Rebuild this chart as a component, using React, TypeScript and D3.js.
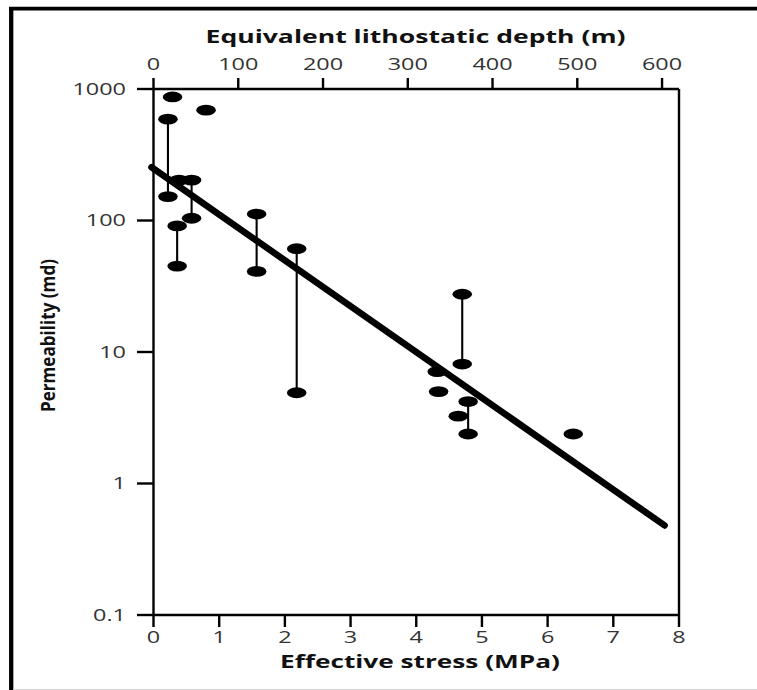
import React from "react";
import * as d3 from "d3";

// Paired measurements: upper and lower permeability at the same effective stress
const pairStress = [0.22, 0.58, 0.36, 1.57, 2.18, 4.7, 4.79];
const pairHigh = [590, 203, 91, 112, 61, 27.5, 4.2];
const pairLow = [152, 104, 45, 41, 4.9, 8.1, 2.38];

// Single measurements
const singleStress = [0.29, 0.8, 0.39, 4.32, 4.34, 4.64, 6.39];
const singlePerm = [870, 690, 203, 7.1, 5.0, 3.25, 2.38];

// Exponential fit drawn as a straight line on the log axis
const trendStress = [-0.03, 7.78];
const trendPerm = [254, 0.48];

// Axis ticks
const stressTicks = [0, 1, 2, 3, 4, 5, 6, 7, 8];
const depthTicks = [0, 100, 200, 300, 400, 500, 600];
const permTicks = [1000, 100, 10, 1, 0.1];
const permTickLabels = ["1000", "100", "10", "1", "0.1"];

const W = 757;
const H = 690;
const left = 153.5;
const right = 679;
const top = 89;
const bottom = 615;

const FONT = "'Open Sans', 'DejaVu Sans', sans-serif";
const STRETCH = 1.42;

export default function App() {
  const x = d3.scaleLinear().domain([0, 8]).range([left, right]);
  const xTop = d3.scaleLinear().domain([0, 620]).range([left, right]);
  const y = d3.scaleLog().domain([0.1, 1000]).range([bottom, top]);

  const trend = d3
    .line<number>()
    .x((_, i) => x(trendStress[i]))
    .y((v) => y(v))(trendPerm);

  const axisW = 2.4;
  const tickFill = "#333";

  return (
    <svg
      width={W}
      height={H}
      style={{ position: "absolute", left: 0, top: 0, background: "#fff" }}
      fontFamily={FONT}
    >
      {/* outer frame */}
      <line x1={9} x2={W} y1={8.6} y2={8.6} stroke="#000" strokeWidth={3.6} />
      <line x1={11.2} x2={11.2} y1={7} y2={H} stroke="#000" strokeWidth={4.3} />
      <line x1={13} x2={W} y1={689.5} y2={689.5} stroke="#d4d4d4" strokeWidth={1} />

      {/* plot box */}
      <line x1={left} x2={right} y1={top} y2={top} stroke="#000" strokeWidth={axisW} />
      <line x1={left} x2={right} y1={bottom} y2={bottom} stroke="#000" strokeWidth={axisW} />
      <line x1={left} x2={left} y1={top} y2={bottom} stroke="#000" strokeWidth={axisW} />
      <line x1={right} x2={right} y1={top} y2={bottom} stroke="#000" strokeWidth={axisW} />

      {/* bottom axis: effective stress */}
      {stressTicks.map((t) => (
        <g key={"s" + t}>
          <line x1={x(t)} x2={x(t)} y1={bottom} y2={bottom + 12} stroke="#000" strokeWidth={axisW} />
          <text
            transform={`translate(${x(t)},642.5) scale(${STRETCH},1)`}
            textAnchor="middle"
            fontSize={16.5}
            fill={tickFill}
          >
            {t}
          </text>
        </g>
      ))}
      <text
        x={420}
        y={668}
        textAnchor="middle"
        fontSize={17.5}
        fontWeight={700}
        textLength={280}
        lengthAdjust="spacingAndGlyphs"
        fill="#111"
      >
        Effective stress (MPa)
      </text>

      {/* top axis: equivalent lithostatic depth */}
      {depthTicks.map((t) => (
        <g key={"d" + t}>
          <line x1={xTop(t)} x2={xTop(t)} y1={top} y2={top - 11} stroke="#000" strokeWidth={axisW} />
          <text
            transform={`translate(${xTop(t)},70) scale(${STRETCH},1)`}
            textAnchor="middle"
            fontSize={16.5}
            fill={tickFill}
          >
            {t}
          </text>
        </g>
      ))}
      <text
        x={415.5}
        y={43}
        textAnchor="middle"
        fontSize={17.5}
        fontWeight={700}
        textLength={420}
        lengthAdjust="spacingAndGlyphs"
        fill="#111"
      >
        Equivalent lithostatic depth (m)
      </text>

      {/* left axis: permeability */}
      {permTicks.map((t, i) => (
        <g key={"p" + t}>
          <line x1={left - 16.5} x2={left} y1={y(t)} y2={y(t)} stroke="#000" strokeWidth={axisW} />
          <text
            transform={`translate(126,${y(t) + 5.8}) scale(${STRETCH},1)`}
            textAnchor="end"
            fontSize={16.5}
            fill={tickFill}
          >
            {permTickLabels[i]}
          </text>
        </g>
      ))}
      <text
        transform={`translate(55,335.5) rotate(-90) scale(1,1.4)`}
        textAnchor="middle"
        fontSize={14}
        fontWeight={700}
        textLength={153}
        lengthAdjust="spacingAndGlyphs"
        fill="#111"
      >
        Permeability (md)
      </text>

      {/* range bars */}
      {pairStress.map((s, i) => (
        <line
          key={"b" + i}
          x1={x(s)}
          x2={x(s)}
          y1={y(pairHigh[i])}
          y2={y(pairLow[i])}
          stroke="#000"
          strokeWidth={2.1}
        />
      ))}

      {/* fit line */}
      <path d={trend ?? ""} fill="none" stroke="#000" strokeWidth={6.6} strokeLinecap="round" />

      {/* markers */}
      {pairStress.map((s, i) => (
        <g key={"m" + i}>
          <ellipse cx={x(s)} cy={y(pairHigh[i])} rx={9.8} ry={5.4} fill="#000" />
          <ellipse cx={x(s)} cy={y(pairLow[i])} rx={9.8} ry={5.4} fill="#000" />
        </g>
      ))}
      {singleStress.map((s, i) => (
        <ellipse key={"n" + i} cx={x(s)} cy={y(singlePerm[i])} rx={9.8} ry={5.4} fill="#000" />
      ))}
    </svg>
  );
}
